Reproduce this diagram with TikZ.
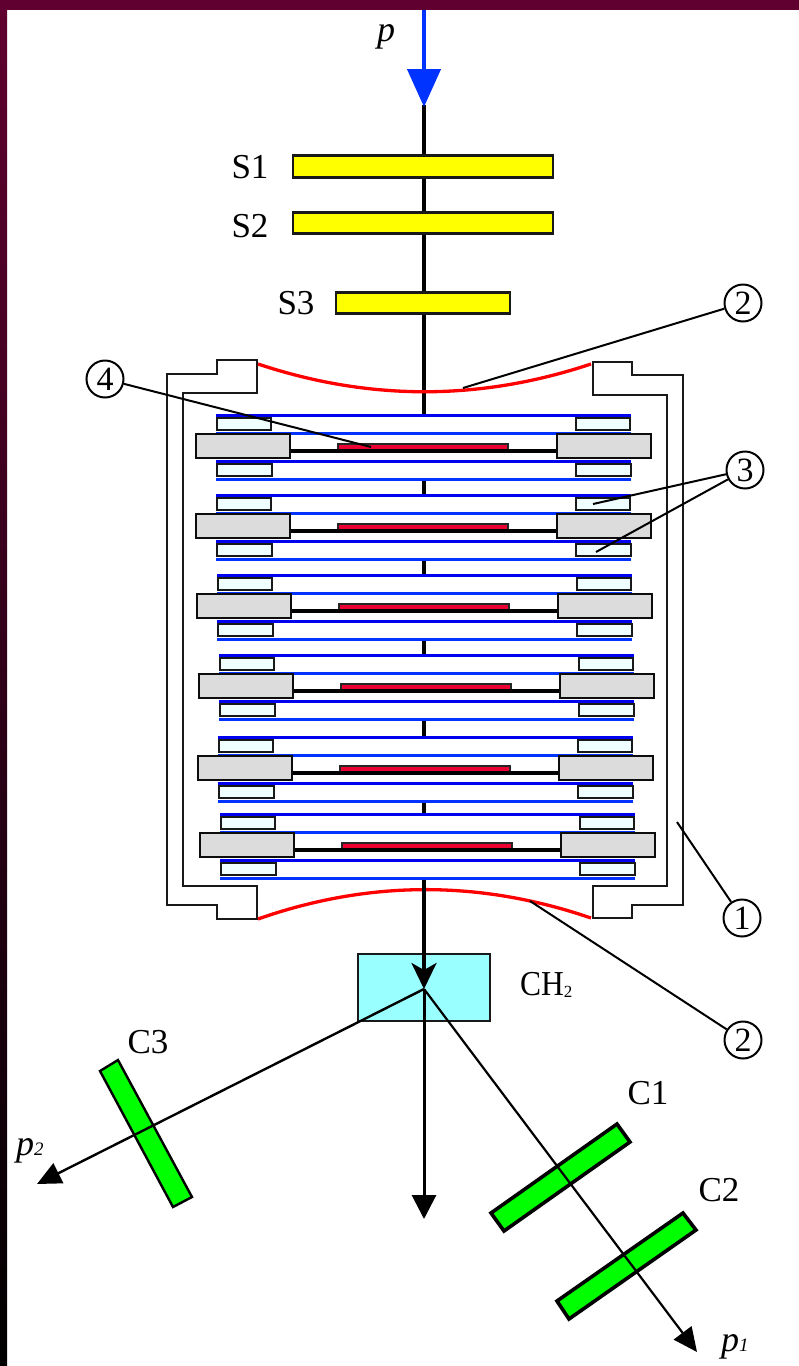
\documentclass[tikz,border=0pt]{standalone}
\usepackage{fontspec}
\setmainfont{Liberation Serif}
\usetikzlibrary{arrows.meta}
\definecolor{bluebeam}{RGB}{0,51,255}
\definecolor{bluedark}{RGB}{0,0,240}
\definecolor{maroonbg}{RGB}{96,0,48}
\definecolor{redcurve}{RGB}{255,0,0}
\definecolor{crim}{RGB}{235,0,50}
\definecolor{grayblock}{RGB}{220,220,220}
\definecolor{icewhite}{RGB}{240,255,255}
\definecolor{cyanbox}{RGB}{153,255,255}
\definecolor{greenbar}{RGB}{0,255,0}
\definecolor{yellowbar}{RGB}{255,255,0}
\tikzset{
  lbl/.style={font=\fontsize{35}{35}\selectfont,inner sep=0pt,text=black},
  ital/.style={font=\fontsize{36}{36}\selectfont\itshape,inner sep=0pt,text=black},
  yellowbox/.style={draw=black!90,fill=yellowbar,line width=2.4pt,inner sep=0pt},
  numcirc/.style={circle,draw=black,line width=2pt,fill=white,minimum size=37pt,inner sep=0pt,font=\fontsize{34}{34}\selectfont},
  leader/.style={black,line width=2pt},
  frame/.style={draw=black!90,line width=2.2pt},
  whitebox/.style={draw=black!90,fill=icewhite,line width=2.3pt},
  grayb/.style={draw=black!95,fill=grayblock,line width=2.6pt},
  greenb/.style={draw=black,fill=greenbar,line join=miter},
  redc/.style={redcurve,line width=3.3pt}
}
\begin{document}
\begin{tikzpicture}[x=1pt,y=-1pt]
\useasboundingbox (0,0) rectangle (799,1366);
\fill[white] (0,0) rectangle (799,1366);
% background strips
\shade[top color=maroonbg,bottom color=black,middle color=maroonbg!50!black] (0,0) rectangle (7,1366);
\fill[maroonbg] (0,0) rectangle (799,10);
% named points
\coordinate (beamtop) at (424,10);
\coordinate (beamjoin) at (424,107);
\coordinate (vertex) at (424,989);
\coordinate (down) at (424,1219);
\coordinate (tip1) at (697,1352);
\coordinate (tip2) at (37,1184);
% central beam
\draw[black,line width=3.6pt] (424,105) -- (424,965);
% yellow counters
\node[yellowbox,minimum width=260pt,minimum height=22pt] (s1) at (423,166.5) {};
\node[yellowbox,minimum width=260pt,minimum height=21pt] (s2) at (423,223) {};
\node[yellowbox,minimum width=174pt,minimum height=21pt] (s3) at (423,303) {};
\node[lbl] (ls1) at (250,167) {S1};
\node[lbl] (ls2) at (250,226) {S2};
\node[lbl] (ls3) at (296,303) {S3};
\node[ital] (lp) at (386,37) {p};
% incoming blue beam
\draw[bluebeam,line width=4.4pt,-{Triangle[length=38pt,width=33pt,fill=bluebeam]}] (beamtop) -- (beamjoin);
% chamber frame
\draw[frame] (167,374) -- (217,374) -- (217,360) -- (257,360) -- (257,393) -- (183,393) -- (183,886) -- (257,886) -- (257,919) -- (217,919) -- (217,905) -- (167,905) -- cycle;
\draw[frame] (683,375) -- (632,375) -- (632,362) -- (593,362) -- (593,395) -- (667,395) -- (667,886) -- (593,886) -- (593,918) -- (632,918) -- (632,905) -- (683,905) -- cycle;
% windows
\draw[redc] (258,364) .. controls (369,401) and (480,401) .. (591,364);
\draw[redc] (258,919) .. controls (369,880) and (480,880) .. (591,918);
% chamber cells
\foreach \dx/\dy in {0/0,0/80,1/160,3/240,2/322,4/399}{
\begin{scope}[shift={(\dx,\dy)}]
  \fill[white] (216,415) rectangle (631,479);
  \draw[bluedark,line width=3pt] (216,415) -- (631,415);
  \draw[bluebeam,line width=3pt] (216,433) -- (631,433);
  \draw[bluedark,line width=3pt] (216,461) -- (631,461);
  \draw[bluebeam,line width=3pt] (216,479) -- (631,479);
  \draw[whitebox] (217,418) rectangle (271,430);
  \draw[whitebox] (217,464) rectangle (272,476);
  \draw[whitebox] (576,418) rectangle (630,430);
  \draw[whitebox] (576,464) rectangle (631,476);
  \draw[draw=black!85,fill=crim,line width=2pt] (338,444) rectangle (508,451);
  \draw[black,line width=3.2pt] (290,451) -- (557,451);
  \draw[grayb] (196,434) rectangle (290,458);
  \draw[grayb] (557,434) rectangle (651,458);
\end{scope}}
% beam below the chamber
\draw[black,line width=3.6pt] (424,880) -- (424,965);
% target
\node[draw=black!90,fill=cyanbox,line width=2pt,minimum width=132pt,minimum height=67pt,inner sep=0pt] (ch) at (424,987.5) {};
\node[lbl,anchor=west] (lch) at (520,985) {\scalebox{.9}[1]{CH}\raisebox{-2pt}{\fontsize{17}{17}\selectfont 2}};
% beam and scattered particles
\draw[black,line width=3.6pt,-{Stealth[length=26pt,width=25pt,inset=7pt]}] (424,945) -- (vertex);
\draw[black,line width=3pt,-{Triangle[length=24pt,width=24pt]}] (vertex) -- (down);
% green counters
\draw[greenb,line width=2.4pt] (100,1071) -- (118,1060) -- (192,1197) -- (173,1207) -- cycle;
\draw[greenb,line width=3.6pt] (491,1213) -- (617,1124) -- (630,1142) -- (504,1231) -- cycle;
\draw[greenb,line width=3.6pt] (557,1301) -- (683,1213) -- (696,1230) -- (569,1319) -- cycle;
\draw[black,line width=2.4pt,-{Triangle[length=24pt,width=22pt]}] (vertex) -- (tip2);
\draw[black,line width=2.2pt,-{Triangle[length=24pt,width=22pt]}] (vertex) -- (tip1);
\node[lbl] (lc3) at (148,1042) {C3};
\node[lbl] (lc1) at (648,1093) {C1};
\node[lbl] (lc2) at (719,1190) {C2};
\node[ital,anchor=base west] (lp2) at (16,1155) {p\raisebox{0pt}{\fontsize{19}{19}\selectfont 2}};
\node[ital,anchor=base west] (lp1) at (721,1351) {p\raisebox{0pt}{\fontsize{19}{19}\selectfont 1}};
% numbered callouts
\node[numcirc] (n2a) at (743,303) {2};
\node[numcirc] (n4) at (105,379) {4};
\node[numcirc] (n3) at (745,470) {3};
\node[numcirc] (n1) at (742,918) {1};
\node[numcirc] (n2b) at (743,1040) {2};
\coordinate (e2a) at (463,388);
\coordinate (e4) at (371,447);
\coordinate (e3a) at (593,504);
\coordinate (e3b) at (596,552);
\coordinate (e1) at (677,822);
\coordinate (e2b) at (530,901);
\draw[leader] (n2a) -- (e2a);
\draw[leader] (n4) -- (e4);
\draw[leader] (n3) -- (e3a);
\draw[leader] (n3) -- (e3b);
\draw[leader] (n1) -- (e1);
\draw[leader] (n2b) -- (e2b);
\end{tikzpicture}
\end{document}
